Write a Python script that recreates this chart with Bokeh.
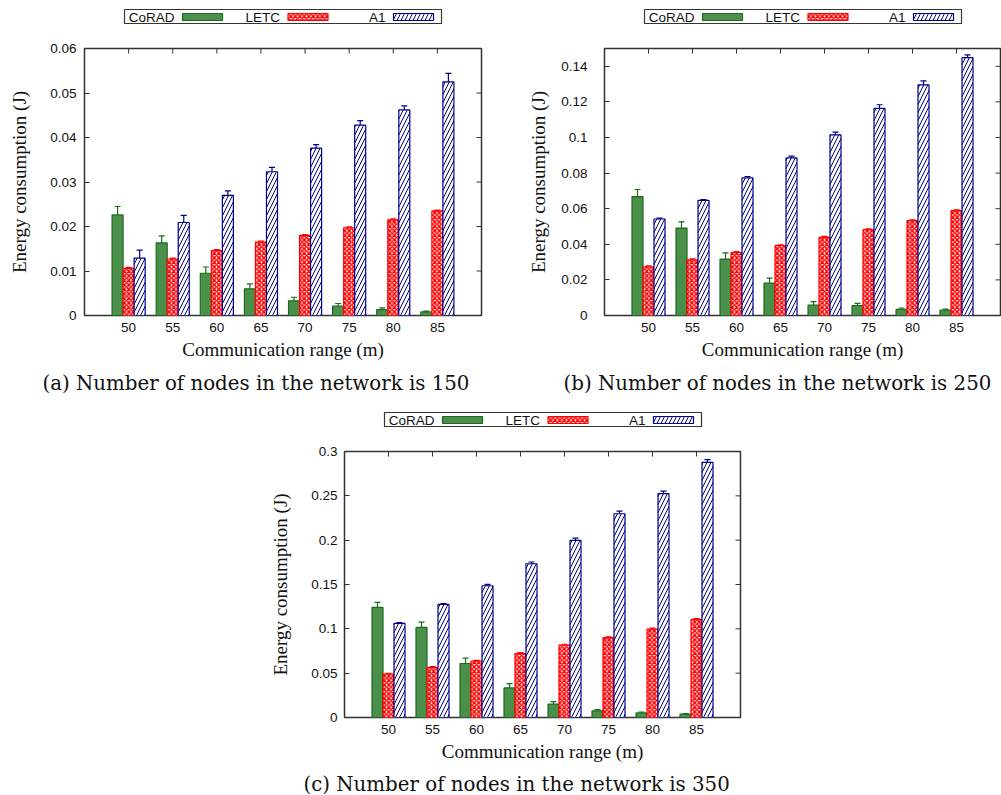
import math

from bokeh.plotting import figure
from bokeh.models import (Range1d, FixedTicker, CustomJSTickFormatter,
                          ColumnDataSource, Whisker, TeeHead, Spacer, Label, Title)
from bokeh.layouts import column, row
from bokeh.embed import file_html
from bokeh.resources import INLINE

# Communication ranges (m) on the x axis
ranges_m = [50, 55, 60, 65, 70, 75, 80, 85]
series = ["CoRAD", "LETC", "A1"]

# 150 nodes
corad_150 = [0.0226, 0.0163, 0.0095, 0.0060, 0.0033, 0.0021, 0.0013, 0.0008]
corad_150_err = [0.0019, 0.0016, 0.0014, 0.0011, 0.0008, 0.0006, 0.0004, 0.0002]
letc_150 = [0.0106, 0.0127, 0.0146, 0.0165, 0.0180, 0.0197, 0.0215, 0.0235]
letc_150_err = [0.0002, 0.0002, 0.0002, 0.0002, 0.0002, 0.0002, 0.0002, 0.0002]
a1_150 = [0.0129, 0.0209, 0.0270, 0.0323, 0.0376, 0.0428, 0.0462, 0.0525]
a1_150_err = [0.0018, 0.0016, 0.0010, 0.0010, 0.0008, 0.0010, 0.0009, 0.0019]

# 250 nodes
corad_250 = [0.0668, 0.0491, 0.0317, 0.0182, 0.0058, 0.0055, 0.0034, 0.0030]
corad_250_err = [0.0040, 0.0035, 0.0035, 0.0028, 0.0020, 0.0013, 0.0008, 0.0006]
letc_250 = [0.0274, 0.0313, 0.0354, 0.0392, 0.0439, 0.0482, 0.0533, 0.0589]
letc_250_err = [0.0005, 0.0005, 0.0005, 0.0005, 0.0005, 0.0005, 0.0005, 0.0005]
a1_250 = [0.0542, 0.0647, 0.0773, 0.0885, 0.1015, 0.1164, 0.1296, 0.1449]
a1_250_err = [0.0005, 0.0004, 0.0008, 0.0010, 0.0015, 0.0020, 0.0022, 0.0015]

# 350 nodes
corad_350 = [0.1242, 0.1016, 0.0609, 0.0334, 0.0150, 0.0075, 0.0052, 0.0037]
corad_350_err = [0.0056, 0.0060, 0.0060, 0.0048, 0.0030, 0.0015, 0.0010, 0.0008]
letc_350 = [0.0489, 0.0564, 0.0635, 0.0722, 0.0816, 0.0900, 0.0997, 0.1106]
letc_350_err = [0.0010, 0.0010, 0.0010, 0.0010, 0.0010, 0.0010, 0.0010, 0.0010]
a1_350 = [0.1061, 0.1275, 0.1486, 0.1734, 0.1998, 0.2298, 0.2524, 0.2878]
a1_350_err = [0.0010, 0.0010, 0.0015, 0.0020, 0.0025, 0.0030, 0.0030, 0.0030]

# y tick positions per panel
yticks_150 = [0, 0.01, 0.02, 0.03, 0.04, 0.05, 0.06]
yticks_250 = [0, 0.02, 0.04, 0.06, 0.08, 0.1, 0.12, 0.14]
yticks_350 = [0, 0.05, 0.1, 0.15, 0.2, 0.25, 0.3]

captions = ["(a) Number of nodes in the network is 150",
            "(b) Number of nodes in the network is 250",
            "(c) Number of nodes in the network is 350"]

# ---- styling -------------------------------------------------------------
SANS = "Liberation Sans"
SERIF = "Liberation Serif"
CAP_FONT = "DejaVu Serif"
FRAME = "#333333"
INK = "#111111"
X_MIN, X_MAX = 45, 90

BAR_STYLE = {
    "CoRAD": dict(fill_color="#4a8f4a", line_color="#1e6b1e"),
    "LETC": dict(fill_color="white", line_color="#ff0000",
                 hatch_pattern="diagonal_cross", hatch_color="#ff0000",
                 hatch_scale=4.5, hatch_weight=1.5),
    "A1": dict(fill_color="white", line_color="#00008b",
               hatch_pattern="right_diagonal_line", hatch_color="#00008b",
               hatch_scale=8, hatch_weight=1.0),
}
ERR_COLOR = {"CoRAD": "#1a6b1a", "LETC": "#ff0000", "A1": "#00008b"}
OFFSETS = [-1.25, 0.0, 1.25]
BAR_W = 1.25


def strip(width, height, frame_left, right_border):
    """Blank figure whose frame lines up with the bar panel below/above it;
    coordinates are pixels from the frame's left edge and from the top."""
    fw = width - frame_left - right_border
    p = figure(width=width, height=height, x_range=Range1d(0, fw),
               y_range=Range1d(height, 0), x_axis_type=None, y_axis_type=None,
               min_border_left=frame_left, min_border_right=right_border,
               min_border_top=0, min_border_bottom=0,
               toolbar_location=None, output_backend="svg")
    p.outline_line_color = None
    return p


def legend_strip(width, height, frame_left, right_border, box_top):
    p = strip(width, height, frame_left, right_border)
    left = 40
    p.quad(left=[left], right=[left + 317], top=[box_top], bottom=[box_top + 14],
           fill_color=None, line_color=FRAME, line_width=1.2)
    cy = box_top + 7.5
    for i, name in enumerate(series):
        sl = left + 58 + 105.5 * i
        p.quad(left=[sl], right=[sl + 40], top=[cy - 3.5], bottom=[cy + 3.5],
               line_width=1.2, **BAR_STYLE[name])
        p.add_layout(Label(x=sl - 8, y=cy, text=name, text_align="right",
                           text_baseline="middle", text_font=SANS,
                           text_font_size="13.5px", text_color=INK))
    return p


def caption_strip(width, height, frame_left, right_border, offset, text):
    p = figure(width=width, height=height, x_range=Range1d(0, 1),
               y_range=Range1d(0, 1), x_axis_type=None, y_axis_type=None,
               min_border_left=frame_left, min_border_right=right_border,
               min_border_top=0, min_border_bottom=0,
               toolbar_location=None, output_backend="svg")
    p.outline_line_color = None
    p.add_layout(Title(text=text, align="left", offset=offset, standoff=0,
                       text_font=CAP_FONT, text_font_size="19.8px",
                       text_font_style="normal", text_color=INK), "above")
    return p


def bar_panel(width, height, frame_left, right_border, top_border, ymax, yticks,
              values, errors, tick_standoff, ylab_standoff):
    p = figure(width=width, height=height, x_range=Range1d(X_MIN, X_MAX),
               y_range=Range1d(0, ymax), min_border_left=frame_left,
               min_border_right=right_border, min_border_top=top_border,
               min_border_bottom=54, toolbar_location=None, output_backend="svg")
    p.grid.visible = False
    p.outline_line_color = FRAME
    p.outline_line_width = 1.5

    for k, name in enumerate(series):
        xs = [r + OFFSETS[k] for r in ranges_m]
        vals = values[k]
        errs = errors[k]
        src = ColumnDataSource(dict(
            x=xs, top=vals,
            upper=[v + e for v, e in zip(vals, errs)],
            lower=[v - e for v, e in zip(vals, errs)]))
        p.vbar(x="x", top="top", bottom=0, width=BAR_W, source=src,
               line_width=1.2, **BAR_STYLE[name])
        c = ERR_COLOR[name]
        p.add_layout(Whisker(source=src, base="x", upper="upper", lower="lower",
                             line_color=c, line_width=1.2,
                             upper_head=TeeHead(size=6, line_color=c, line_width=1.2),
                             lower_head=TeeHead(size=6, line_color=c, line_width=1.2)))

    # mirrored tick marks along the top and right edges (half clipped by the frame)
    p.scatter(x=ranges_m, y=[ymax] * len(ranges_m), marker="dash",
              angle=math.pi / 2, size=10, line_color=FRAME, line_width=1)
    p.scatter(x=[X_MAX] * len(yticks), y=yticks, marker="dash",
              size=10, line_color=FRAME, line_width=1)

    xa = p.xaxis[0]
    xa.ticker = FixedTicker(ticks=ranges_m)
    xa.major_tick_in = 0
    xa.major_tick_out = 0
    xa.minor_tick_line_color = None
    xa.axis_line_color = None
    xa.major_label_standoff = 7
    xa.major_label_text_font = SANS
    xa.major_label_text_font_size = "13.5px"
    xa.major_label_text_color = INK
    xa.axis_label = "Communication range (m)"
    xa.axis_label_text_font = SERIF
    xa.axis_label_text_font_size = "19px"
    xa.axis_label_text_font_style = "normal"
    xa.axis_label_text_color = INK
    xa.axis_label_standoff = 4

    ya = p.yaxis[0]
    ya.ticker = FixedTicker(ticks=yticks)
    ya.formatter = CustomJSTickFormatter(code="return String(tick);")
    ya.major_tick_in = 5
    ya.major_tick_out = 0
    ya.major_tick_line_color = FRAME
    ya.minor_tick_line_color = None
    ya.axis_line_color = None
    ya.major_label_standoff = tick_standoff
    ya.major_label_text_font = SANS
    ya.major_label_text_font_size = "13.5px"
    ya.major_label_text_color = INK
    ya.axis_label = "Energy consumption (J)"
    ya.axis_label_text_font = SERIF
    ya.axis_label_text_font_size = "19px"
    ya.axis_label_text_font_style = "normal"
    ya.axis_label_text_color = INK
    ya.axis_label_standoff = ylab_standoff
    return p


# ---- panel (a): 150 nodes --------------------------------------------------
leg_a = legend_strip(500, 30, 84, 19, 9)
main_a = bar_panel(500, 339, 84, 19, 18, 0.06, yticks_150,
                   [corad_150, letc_150, a1_150],
                   [corad_150_err, letc_150_err, a1_150_err], 8, 17)
cap_a = caption_strip(500, 26, 84, 19, -42, captions[0])

# ---- panel (b): 250 nodes --------------------------------------------------
leg_b = legend_strip(501, 30, 104, 1, 9)
main_b = bar_panel(501, 339, 104, 1, 18, 0.15, yticks_250,
                   [corad_250, letc_250, a1_250],
                   [corad_250_err, letc_250_err, a1_250_err], 17, 9)
cap_b = caption_strip(501, 26, 104, 1, -41, captions[1])

# ---- panel (c): 350 nodes --------------------------------------------------
leg_c = legend_strip(500, 35, 84, 20, 17)
main_c = bar_panel(500, 341, 84, 20, 21, 0.3, yticks_350,
                   [corad_350, letc_350, a1_350],
                   [corad_350_err, letc_350_err, a1_350_err], 7, 17)
cap_c = caption_strip(500, 24, 84, 20, -41, captions[2])

layout = column(
    row(column(leg_a, main_a, cap_a), column(leg_b, main_b, cap_b)),
    row(Spacer(width=260, height=400), column(leg_c, main_c, cap_c)),
)

open("out.html", "w").write(file_html(layout, INLINE, title="Energy consumption"))
